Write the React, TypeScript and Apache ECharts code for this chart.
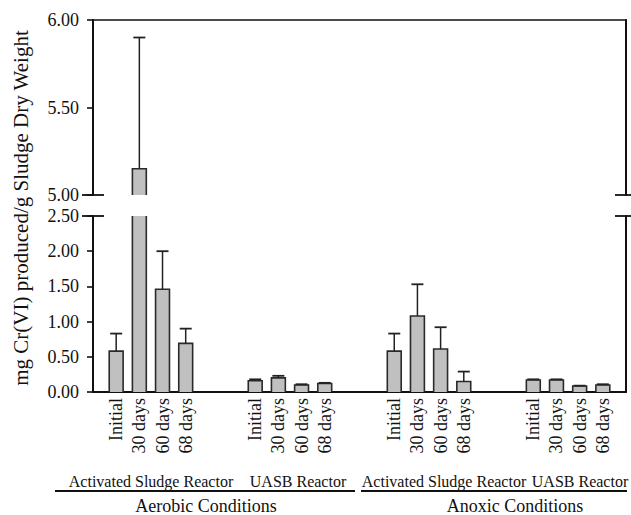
import React, { useEffect, useRef } from "react";
import * as echarts from "echarts";

// ---- data ----
const periods = ["Initial", "30 days", "60 days", "68 days"];
const aerobicAS = [0.58, 5.15, 1.46, 0.69];
const aerobicASErr = [0.25, 0.75, 0.54, 0.21];
const aerobicUASB = [0.16, 0.2, 0.1, 0.12];
const aerobicUASBErr = [0.02, 0.03, 0.01, 0.01];
const anoxicAS = [0.58, 1.08, 0.61, 0.15];
const anoxicASErr = [0.25, 0.45, 0.31, 0.14];
const anoxicUASB = [0.17, 0.17, 0.085, 0.1];
const anoxicUASBErr = [0.01, 0.01, 0.005, 0.01];
const groupStartSlots = [1, 7, 13, 19];
const slotCount = 24;
const reactorLabels = ["Activated Sludge Reactor", "UASB Reactor", "Activated Sludge Reactor", "UASB Reactor"];
const conditionLabels = ["Aerobic Conditions", "Anoxic Conditions"];
const yTitle = "mg Cr(VI) produced/g Sludge Dry Weight";

const FONT = "'Liberation Serif', 'Times New Roman', serif";
const INK = "#111";

// layout
const W = 631;
const H = 515;
const LEFT = 93;
const RIGHT_EDGE = 626;
const UP_TOP = 20;
const UP_H = 175;
const LO_TOP = 216;
const LO_H = 176;

function buildData() {
  const groups = [
    [aerobicAS, aerobicASErr],
    [aerobicUASB, aerobicUASBErr],
    [anoxicAS, anoxicASErr],
    [anoxicUASB, anoxicUASBErr],
  ];
  const out: number[][] = [];
  groups.forEach(([vals, errs], g) => {
    vals.forEach((v, i) => out.push([groupStartSlots[g] + i, v, errs[i]]));
  });
  return out;
}

function buildCategories() {
  const cats: string[] = new Array(slotCount).fill("");
  groupStartSlots.forEach((s) => periods.forEach((p, i) => (cats[s + i] = p)));
  return cats;
}

const renderBar = (params: any, api: any) => {
  const cs = params.coordSys;
  const top = cs.y;
  const bot = cs.y + cs.height;
  const x = api.value(0);
  const v = api.value(1);
  const e = api.value(2);
  const cx = api.coord([x, v])[0];
  const yv = api.coord([x, v])[1];
  const y0 = api.coord([x, 0])[1];
  const ye = api.coord([x, v + e])[1];
  const bw = api.size([1, 0])[0] * 0.6;
  const half = bw / 2;
  const children: any[] = [];
  const barTop = Math.max(yv, top);
  const barBot = Math.min(y0, bot);
  const stroke = { stroke: "#2a2a2a", lineWidth: 1.6, fill: "none" };
  if (barTop < barBot) {
    children.push({
      type: "rect",
      shape: { x: cx - half, y: barTop, width: bw, height: barBot - barTop },
      style: { fill: "#c0c0c0", stroke: "none" },
    });
    const pts: number[][] = [];
    pts.push([cx - half, barBot]);
    pts.push([cx - half, barTop]);
    if (yv >= top) pts.push([cx + half, barTop]);
    else {
      children.push({ type: "polyline", shape: { points: pts.slice() }, style: stroke });
      pts.length = 0;
      pts.push([cx + half, barTop]);
    }
    pts.push([cx + half, barBot]);
    children.push({ type: "polyline", shape: { points: pts }, style: stroke });
  }
  const eTop = Math.max(ye, top);
  const eBot = Math.min(yv, bot);
  if (eTop < eBot) {
    children.push({
      type: "line",
      shape: { x1: cx, y1: eBot, x2: cx, y2: eTop },
      style: { stroke: "#222", lineWidth: 1.5 },
    });
    if (ye >= top) {
      children.push({
        type: "line",
        shape: { x1: cx - 6, y1: ye, x2: cx + 6, y2: ye },
        style: { stroke: "#222", lineWidth: 1.8 },
      });
    }
  }
  return { type: "group", children };
};

export default function App() {
  const ref = useRef<HTMLDivElement>(null);
  useEffect(() => {
    if (!ref.current) return;
    const chart = echarts.init(ref.current, undefined, { renderer: "svg" });
    const cats = buildCategories();
    const data = buildData();

    const xBase = {
      type: "category" as const,
      data: cats,
      boundaryGap: false,
      axisTick: { show: false },
      splitLine: { show: false },
    };
    const yLabel = {
      fontFamily: FONT,
      fontSize: 18,
      color: INK,
      margin: 14,
      formatter: (v: number) => v.toFixed(2),
    };

    const tickX = (x1: number, x2: number, y: number) => ({
      type: "line",
      shape: { x1, y1: y, x2, y2: y },
      style: { stroke: INK, lineWidth: 1.8 },
    });
    const txt = (text: string, x: number, y: number, size: number, va = "middle") => ({
      type: "text",
      x,
      y,
      style: {
        text,
        fontFamily: FONT,
        fontSize: size,
        fill: INK,
        textAlign: "center",
        textVerticalAlign: va,
      },
    });

    chart.setOption({
      animation: false,
      grid: [
        { left: LEFT, right: W - RIGHT_EDGE, top: UP_TOP, height: UP_H },
        { left: LEFT, right: W - RIGHT_EDGE, top: LO_TOP, height: LO_H },
      ],
      xAxis: [
        {
          ...xBase,
          gridIndex: 0,
          position: "top",
          axisLabel: { show: false },
          axisLine: { show: true, lineStyle: { color: INK, width: 1.6 } },
        },
        {
          ...xBase,
          gridIndex: 1,
          position: "bottom",
          axisLine: { show: true, onZero: false, lineStyle: { color: INK, width: 2 } },
          axisLabel: {
            interval: 0,
            rotate: 90,
            margin: 6,
            fontFamily: FONT,
            fontSize: 18,
            color: INK,
          },
        },
      ],
      yAxis: [
        {
          type: "value",
          gridIndex: 0,
          min: 5,
          max: 6,
          interval: 0.5,
          position: "left",
          axisLine: { show: true, lineStyle: { color: INK, width: 2 } },
          axisTick: { show: true, length: 6, lineStyle: { color: INK, width: 1.6 } },
          splitLine: { show: false },
          axisLabel: yLabel,
        },
        {
          type: "value",
          gridIndex: 0,
          min: 5,
          max: 6,
          interval: 0.5,
          position: "right",
          axisLine: { show: true, lineStyle: { color: INK, width: 2 } },
          axisTick: { show: false },
          axisLabel: { show: false },
          splitLine: { show: false },
        },
        {
          type: "value",
          gridIndex: 1,
          min: 0,
          max: 2.5,
          interval: 0.5,
          position: "left",
          axisLine: { show: true, lineStyle: { color: INK, width: 2 } },
          axisTick: { show: true, length: 6, lineStyle: { color: INK, width: 1.6 } },
          splitLine: { show: false },
          axisLabel: yLabel,
        },
        {
          type: "value",
          gridIndex: 1,
          min: 0,
          max: 2.5,
          interval: 0.5,
          position: "right",
          axisLine: { show: true, lineStyle: { color: INK, width: 2 } },
          axisTick: { show: false },
          axisLabel: { show: false },
          splitLine: { show: false },
        },
      ],
      series: [
        {
          type: "custom",
          xAxisIndex: 0,
          yAxisIndex: 0,
          data,
          renderItem: renderBar,
          encode: { x: 0, y: 1 },
        },
        {
          type: "custom",
          xAxisIndex: 1,
          yAxisIndex: 2,
          data,
          renderItem: renderBar,
          encode: { x: 0, y: 1 },
        },
      ],
      graphic: [
        tickX(LEFT - 11, LEFT + 11, UP_TOP + UP_H),
        tickX(LEFT - 11, LEFT + 11, LO_TOP),
        tickX(RIGHT_EDGE - 11, RIGHT_EDGE + 11, UP_TOP + UP_H),
        tickX(RIGHT_EDGE - 11, RIGHT_EDGE + 11, LO_TOP),
        {
          type: "line",
          shape: { x1: 55, y1: 491, x2: 355, y2: 491 },
          style: { stroke: INK, lineWidth: 2 },
        },
        {
          type: "line",
          shape: { x1: 361, y1: 491, x2: 627, y2: 491 },
          style: { stroke: INK, lineWidth: 2 },
        },
        txt(reactorLabels[0], 151, 481, 16),
        txt(reactorLabels[1], 298, 481, 16),
        txt(reactorLabels[2], 444, 481, 16),
        txt(reactorLabels[3], 580, 481, 16),
        txt(conditionLabels[0], 206, 515, 18, "bottom"),
        txt(conditionLabels[1], 515, 515, 18, "bottom"),
        {
          type: "text",
          x: 21,
          y: 208,
          rotation: Math.PI / 2,
          style: {
            text: yTitle,
            fontFamily: FONT,
            fontSize: 21,
            fill: INK,
            textAlign: "center",
            textVerticalAlign: "middle",
          },
        },
      ],
    });
    return () => chart.dispose();
  }, []);
  return (
    <div
      ref={ref}
      style={{ position: "fixed", left: 0, top: 0, width: W, height: H, background: "#fff" }}
    />
  );
}
